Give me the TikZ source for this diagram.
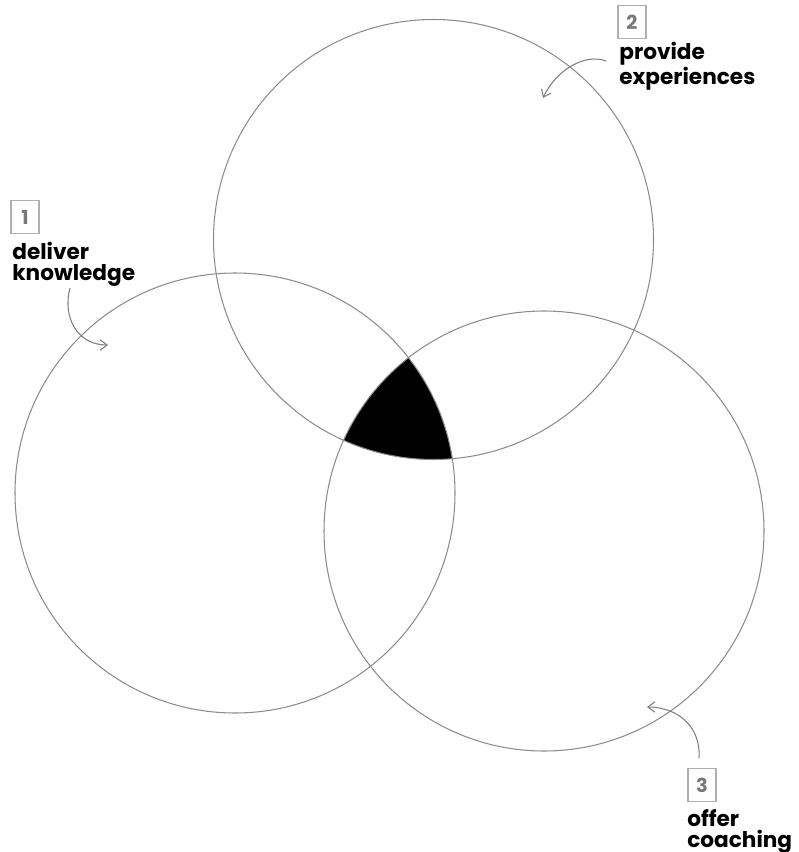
\documentclass[tikz,border=0pt]{standalone}
\usepackage{fontspec}
\usetikzlibrary{arrows.meta}
\newfontfamily\lblfont{Poppins}
\definecolor{vnring}{RGB}{140,140,140}
\definecolor{vnbox}{RGB}{175,175,175}
\definecolor{vnnum}{RGB}{120,120,120}

\begin{document}
\begin{tikzpicture}[x=0.02cm,y=-0.02cm,
  ring/.style={draw=vnring,line width=0.6pt},
  numbox/.style={draw=vnbox,line width=0.8pt,minimum width=16pt,minimum height=18.5pt,
    inner sep=0pt,font=\lblfont\bfseries\fontsize{11}{11}\selectfont,text=vnnum},
  caption/.style={anchor=base west,align=left,inner sep=0pt,
    font=\lblfont\bfseries\fontsize{12.3}{11.4}\selectfont},
  pointer/.style={draw=vnring!90!black,line width=0.6pt,-{Straight Barb[length=4pt,width=6pt]}}]
  \useasboundingbox (0,0) rectangle (798,852);
  \coordinate (know) at (235,493);
  \coordinate (expr) at (433.5,239.5);
  \coordinate (coach) at (544,531);
  % centre of the three circles
  \begin{scope}
    \clip (know) circle (220);
    \clip (expr) circle (220);
    \fill[black] (coach) circle (220);
  \end{scope}
  \draw[ring] (know) circle (220);
  \draw[ring] (expr) circle (220);
  \draw[ring] (coach) circle (220);
  % labels
  \node[numbox] (n1) at (25,217) {1};
  \node[caption] (t1) at (12,280) {deliver\\knowledge};
  \node[numbox] (n2) at (632,22) {2};
  \node[caption] (t2) at (619,84) {provide\\experiences};
  \node[numbox] (n3) at (702,785) {3};
  \node[caption] (t3) at (687,847) {offer\\coaching};
  % pointers
  \coordinate (p1s) at (70,288);
  \coordinate (p1e) at (108,345);
  \coordinate (p2s) at (606,61);
  \coordinate (p2e) at (543,98);
  \coordinate (p3s) at (699,758);
  \coordinate (p3e) at (647,707);
  \draw[pointer] (p1s) .. controls (62,318) and (78,345) .. (p1e);
  \draw[pointer] (p2s) .. controls (585,53) and (556,70) .. (p2e);
  \draw[pointer] (p3s) .. controls (701,725) and (676,707) .. (p3e);
\end{tikzpicture}
\end{document}
